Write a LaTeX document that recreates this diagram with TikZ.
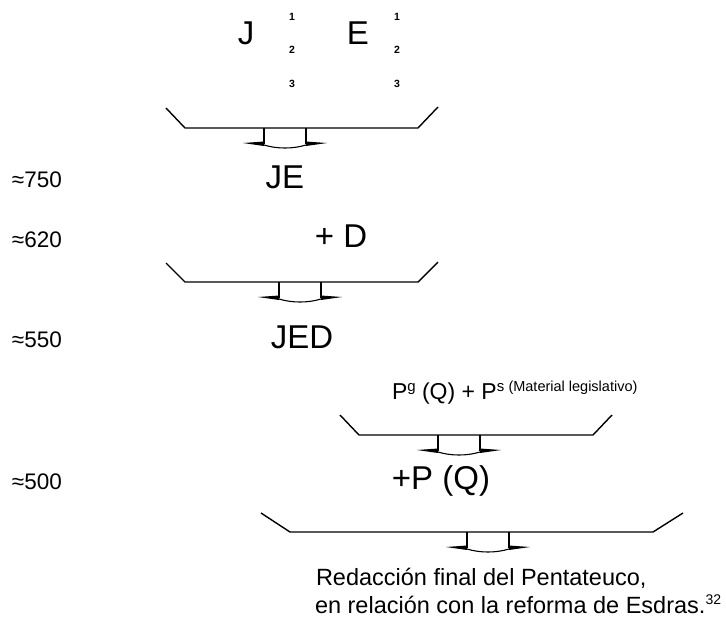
\documentclass[tikz,border=0pt]{standalone}
\usepackage{fontspec}
\setmainfont{Liberation Sans}
\newcommand{\bigtxt}{\fontsize{33}{38}\selectfont}
\newcommand{\datefont}{\fontsize{22.5}{26}\selectfont}
\newcommand{\tinyidx}{\fontsize{10.5}{12}\selectfont\bfseries}
\newcommand{\midfont}{\fontsize{23}{27}\selectfont}
\newcommand{\rsup}[3]{\raisebox{#1}{\fontsize{#2}{#2}\selectfont #3}}
\tikzset{
  lbl/.style={inner sep=0pt, outer sep=0pt, anchor=base west},
  ctr/.style={inner sep=0pt, outer sep=0pt, anchor=base},
  tray/.style={line width=1.4pt, line join=miter},
  stem/.style={line width=1.1pt},
  pics/funnel/.style={code={
    % stem of the hollow arrow
    \draw[stem] (-21,0) -- (-21,16);
    \draw[stem] (21,0) -- (21,16);
    % tapered wings
    \fill (-42,15) -- (-21,13.5) -- (-21,18) -- cycle;
    \fill (42,15) -- (21,13.5) -- (21,18) -- cycle;
    % rounded tip
    \draw[stem] (-21,17) .. controls (-8,21) and (8,21) .. (21,17);
  }}
}
\begin{document}
\begin{tikzpicture}[x=1pt,y=-1pt]
\useasboundingbox (0,0) rectangle (726,622);

% sources at the top
\node[ctr] (J) at (246,44) {\bigtxt J};
\node[ctr] (E) at (358,44) {\bigtxt E};
\node[ctr] (j1) at (292,20) {\tinyidx 1};
\node[ctr] (j2) at (292,53) {\tinyidx 2};
\node[ctr] (j3) at (292,87) {\tinyidx 3};
\node[ctr] (e1) at (397,20) {\tinyidx 1};
\node[ctr] (e2) at (397,53) {\tinyidx 2};
\node[ctr] (e3) at (397,87) {\tinyidx 3};

% first merge
\draw[tray] (166,108) -- (185,128) -- (418,128) -- (438,107);
\pic at (285,128) {funnel};
\node[ctr] (JE) at (285,188) {\bigtxt JE};
\node[lbl] (d750) at (12,187) {\datefont ≈750};

\node[ctr] (D) at (341,247) {\bigtxt + D};
\node[lbl] (d620) at (12,247) {\datefont ≈620};

% second merge
\draw[tray] (166,263) -- (185,282) -- (418,282) -- (438,262);
\pic at (300,282) {funnel};
\node[ctr] (JED) at (302,348) {\bigtxt JED};
\node[lbl] (d550) at (12,347) {\datefont ≈550};

% priestly material
\node[lbl] (P) at (392,399) {\midfont P\rsup{8pt}{15}{g} (Q) + P\rsup{8pt}{15}{s \fontsize{14.5}{15}\selectfont(Material legislativo)}};
\draw[tray] (340,415) -- (359,435) -- (593,435) -- (612,415);
\pic at (459,435) {funnel};
\node[ctr] (PQ) at (441,489) {\bigtxt +P (Q)};
\node[lbl] (d500) at (12,489) {\datefont ≈500};

% final redaction
\draw[tray] (261,513) -- (290,532) -- (653,532) -- (683,513);
\pic at (488,532) {funnel};
\node[lbl] (R1) at (316,585) {\fontsize{23.5}{28}\selectfont Redacción final del Pentateuco,};
\node[lbl] (R2) at (315,613) {\fontsize{23.5}{28}\selectfont en relación con la reforma de Esdras.\rsup{9pt}{14}{32}};
\end{tikzpicture}
\end{document}
